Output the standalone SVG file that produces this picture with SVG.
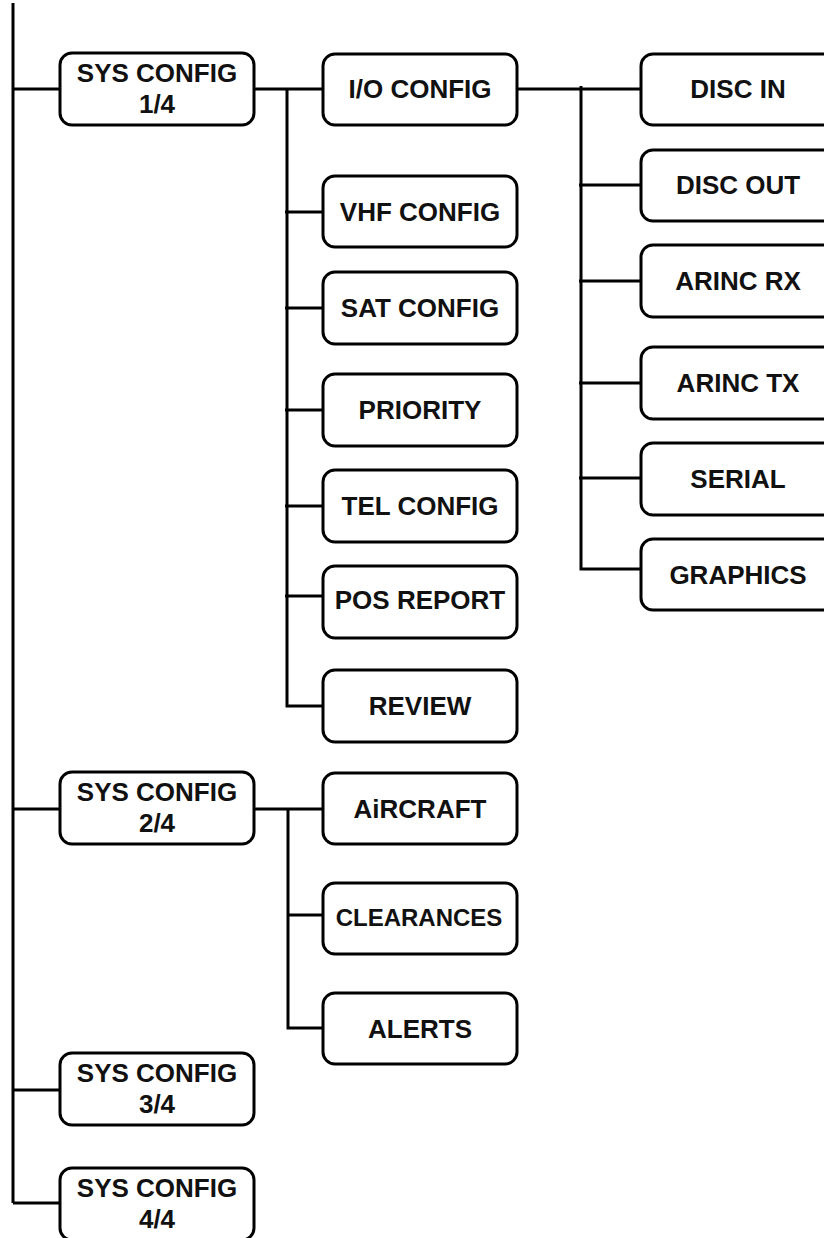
<svg xmlns="http://www.w3.org/2000/svg" width="824" height="1238" viewBox="0 0 824 1238">
<style>
.box{fill:#fff;stroke:#000;stroke-width:3}
.ln{stroke:#000;stroke-width:3;fill:none}
text{font-family:"Liberation Sans",Arial,sans-serif;font-weight:bold;font-size:26px;fill:#111;text-anchor:middle}
</style>
<rect width="824" height="1238" fill="#fff"/>
<g id="connectors">
<path class="ln" d="M13 3V1203"/>
<path class="ln" d="M13 89H60M13 809H60M13 1090H60M13 1203H60"/>
<path class="ln" d="M254 89H323M287 89V706H323"/>
<path class="ln" d="M285 212H323M285 308H323M285 410H323M285 506H323M285 596H323"/>
<path class="ln" d="M517 89H641M581 86V569H641"/>
<path class="ln" d="M579 185H641M579 281H641M579 383H641M579 478H641"/>
<path class="ln" d="M254 809H323M288 809V1028H323M288 915H323"/>
</g>
<g id="sys1"><rect class="box" x="60" y="53" width="194" height="72" rx="12"/><text x="157" y="82">SYS CONFIG</text><text x="157" y="113">1/4</text></g>
<g id="sys2"><rect class="box" x="60" y="772" width="194" height="72" rx="12"/><text x="157" y="801">SYS CONFIG</text><text x="157" y="832">2/4</text></g>
<g id="sys3"><rect class="box" x="60" y="1053" width="194" height="72" rx="12"/><text x="157" y="1082">SYS CONFIG</text><text x="157" y="1113">3/4</text></g>
<g id="sys4"><rect class="box" x="60" y="1168" width="194" height="72" rx="12"/><text x="157" y="1197">SYS CONFIG</text><text x="157" y="1228">4/4</text></g>
<g id="io"><rect class="box" x="323" y="54" width="194" height="71" rx="12"/><text x="420" y="98">I/O CONFIG</text></g>
<g id="vhf"><rect class="box" x="323" y="176" width="194" height="71" rx="12"/><text x="420" y="221">VHF CONFIG</text></g>
<g id="sat"><rect class="box" x="323" y="272" width="194" height="72" rx="12"/><text x="420" y="317">SAT CONFIG</text></g>
<g id="priority"><rect class="box" x="323" y="374" width="194" height="72" rx="12"/><text x="420" y="419">PRIORITY</text></g>
<g id="tel"><rect class="box" x="323" y="470" width="194" height="72" rx="12"/><text x="420" y="515">TEL CONFIG</text></g>
<g id="pos"><rect class="box" x="323" y="566" width="194" height="72" rx="12"/><text x="420" y="609">POS REPORT</text></g>
<g id="review"><rect class="box" x="323" y="670" width="194" height="72" rx="12"/><text x="420" y="715">REVIEW</text></g>
<g id="aircraft"><rect class="box" x="323" y="773" width="194" height="71" rx="12"/><text x="420" y="818">AiRCRAFT</text></g>
<g id="clearances"><rect class="box" x="323" y="883" width="194" height="71" rx="12"/><text x="419" y="926" style="font-size:24px">CLEARANCES</text></g>
<g id="alerts"><rect class="box" x="323" y="993" width="194" height="71" rx="12"/><text x="420" y="1038">ALERTS</text></g>
<g id="discin"><rect class="box" x="641" y="54" width="194" height="71" rx="12"/><text x="738" y="98">DISC IN</text></g>
<g id="discout"><rect class="box" x="641" y="150" width="194" height="71" rx="12"/><text x="738" y="194">DISC OUT</text></g>
<g id="arincrx"><rect class="box" x="641" y="245" width="194" height="72" rx="12"/><text x="738" y="290">ARINC RX</text></g>
<g id="arinctx"><rect class="box" x="641" y="347" width="194" height="72" rx="12"/><text x="738" y="392">ARINC TX</text></g>
<g id="serial"><rect class="box" x="641" y="443" width="194" height="72" rx="12"/><text x="738" y="488">SERIAL</text></g>
<g id="graphics"><rect class="box" x="641" y="539" width="194" height="71" rx="12"/><text x="738" y="584">GRAPHICS</text></g>
</svg>
